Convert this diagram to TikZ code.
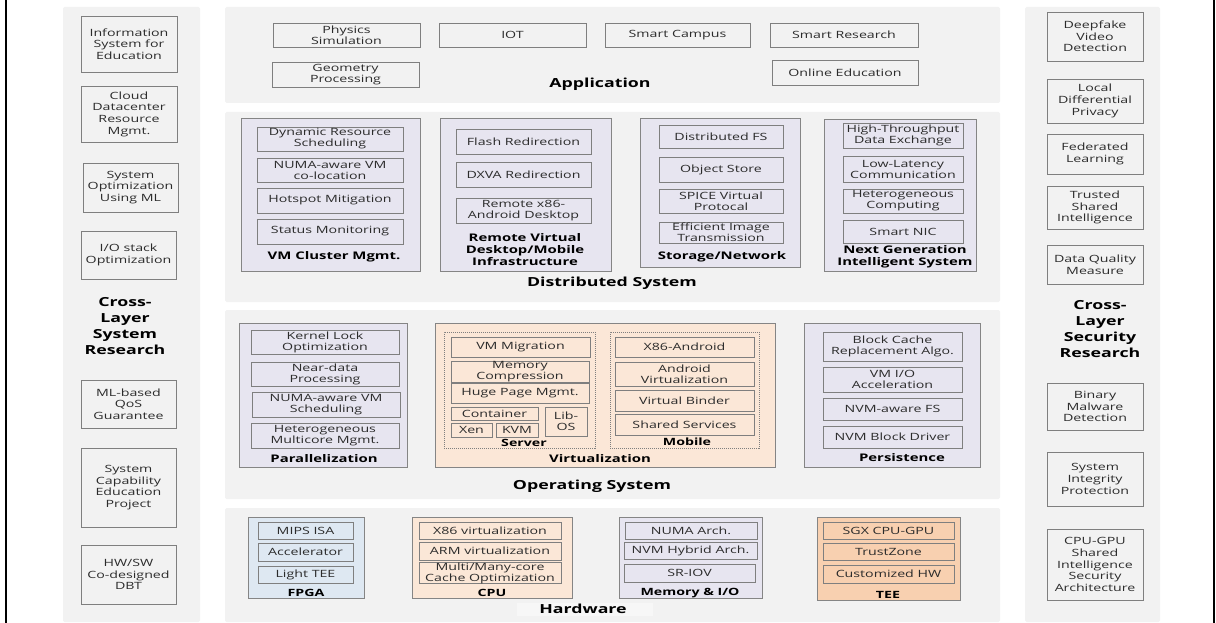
\documentclass[tikz,border=0pt]{standalone}
\usepackage{fontspec}
\setmainfont{Open Sans}[FakeStretch=1.42]
\definecolor{panelc}{HTML}{F2F2F2}
\definecolor{lav}{HTML}{E7E5F0}
\definecolor{peach}{HTML}{FBE7D7}
\definecolor{teec}{HTML}{F8D0B0}
\definecolor{fpgac}{HTML}{DEE8F2}
\definecolor{boxc}{HTML}{7F7F7F}
\definecolor{bordc}{HTML}{858585}
\definecolor{txtc}{HTML}{2B2B2B}
\newcommand{\bx}[7][]{\node[box,#1,minimum width={(#5-#3)*1pt},minimum height={(#6-#4)*1pt}] (#2) at ({(#3+#5)/2},{(#4+#6)/2}) {#7};}
\tikzset{
  box/.style={draw=boxc, line width=0.8pt, inner sep=0pt, align=center, text=txtc,
    font=\fontsize{10}{11}\selectfont},
  sbox/.style={font=\fontsize{10}{11.7}\selectfont},
  panel/.style={draw=none, fill=panelc, rounded corners=1.5pt},
  cont/.style={draw=bordc, line width=1pt},
  dbox/.style={draw=boxc, line width=0.7pt, dash pattern=on 1.2pt off 0.8pt},
  head/.style={font=\bfseries\fontsize{12.5}{16}\selectfont, align=center, inner sep=0pt, text=black},
  sub/.style={font=\bfseries\fontsize{10.5}{12}\selectfont, align=center, inner sep=0pt, text=black},
  hsub/.style={font=\bfseries\fontsize{10}{11}\selectfont, align=center, inner sep=0pt, text=black},
}
\begin{document}
\begin{tikzpicture}[x=1pt,y=-1pt]
\useasboundingbox (0,0) rectangle (1216,623);
% frame lines
\coordinate (lt) at (6.2,0); \coordinate (lb) at (6.2,623);
\coordinate (rt) at (1214,0); \coordinate (rb) at (1214,623);
\draw[line width=2.4pt] (lt) -- (lb);
\draw[line width=2.4pt] (rt) -- (rb);
% panels
\bx[panel]{pleft}{63}{7}{200}{622}{}
\bx[panel]{pright}{1025}{7}{1160}{622}{}
\bx[panel]{papp}{225}{7}{1000}{103}{}
\bx[panel]{pdist}{225}{112}{1000}{302}{}
\bx[panel]{pos}{225}{310}{1000}{499}{}
\bx[panel]{phw}{225}{508}{1000}{622}{}
% left column
\bx[sbox]{l1}{81}{16}{177}{72}{Information\\System for\\Education}
\bx[sbox]{l2}{81}{86}{177}{142}{Cloud\\Datacenter\\Resource\\Mgmt.}
\bx[sbox]{l3}{83}{163}{178}{212}{System\\Optimization\\Using ML}
\bx[sbox]{l4}{81}{231}{176}{279}{I/O stack\\Optimization}
\node[head] (lhead) at (125,326) {Cross-\\Layer\\System\\Research};
\bx[sbox]{l5}{81}{380}{176}{428}{ML-based\\QoS\\Guarantee}
\bx[sbox]{l6}{81}{448}{176}{527}{System\\Capability\\Education\\Project}
\bx[sbox]{l7}{81}{545}{176}{604}{HW/SW\\Co-designed\\DBT}
% right column
\bx[sbox]{r1}{1047}{12}{1143}{61}{Deepfake\\Video\\Detection}
\bx[sbox]{r2}{1047}{79}{1143}{123}{Local\\Differential\\Privacy}
\bx[sbox]{r3}{1047}{134}{1143}{174}{Federated\\Learning}
\bx[sbox]{r4}{1047}{186}{1143}{229}{Trusted\\Shared\\Intelligence}
\bx[sbox]{r5}{1047}{245}{1143}{284}{Data Quality\\Measure}
\node[head] (rhead) at (1100,329) {Cross-\\Layer\\Security\\Research};
\bx[sbox]{r6}{1047}{383}{1143}{430}{Binary\\Malware\\Detection}
\bx[sbox]{r7}{1047}{452}{1143}{506}{System\\Integrity\\Protection}
\bx[sbox]{r8}{1047}{529}{1143}{600}{CPU-GPU\\Shared\\Intelligence\\Security\\Architecture}
% application
\bx{a1}{273}{23}{420}{47}{Physics\\Simulation}
\bx{a2}{439}{23}{586}{47}{IOT}
\bx{a3}{605}{23}{750}{47}{Smart Campus}
\bx{a4}{770}{23}{918}{47}{Smart Research}
\bx{a5}{272}{62}{419}{87}{Geometry\\Processing}
\bx{a6}{772}{60}{918}{85}{Online Education}
\node[head] (happ) at (600,84) {Application};
% distributed system
\bx[cont,fill=lav]{vmc}{241}{119}{420}{271}{}
\bx{d1}{257}{127}{403}{151}{Dynamic Resource\\Scheduling}
\bx{d2}{257}{158}{403}{182}{NUMA-aware VM\\co-location}
\bx{d3}{257}{188}{403}{213}{Hotspot Mitigation}
\bx{d4}{257}{219}{403}{244}{Status Monitoring}
\node[sub] (lvmc) at (334,257) {VM Cluster Mgmt.};
\bx[cont,fill=lav]{rvd}{440}{119}{611}{271}{}
\bx{d5}{456}{129}{591}{154}{Flash Redirection}
\bx{d6}{456}{162}{591}{187}{DXVA Redirection}
\bx{d7}{456}{198}{591}{223}{Remote x86-\\Android Desktop}
\node[sub] (lrvd) at (525,250) {Remote Virtual\\Desktop/Mobile\\Infrastructure};
\bx[cont,fill=lav]{stn}{640}{119}{800}{267}{}
\bx{d8}{659}{125}{783}{148}{Distributed FS}
\bx{d9}{659}{157}{783}{182}{Object Store}
\bx{d10}{659}{189}{783}{213}{SPICE Virtual\\Protocal}
\bx{d11}{659}{222}{783}{243}{Efficient Image\\Transmission}
\node[sub] (lstn) at (722,257) {Storage/Network};
\bx[cont,fill=lav]{ngs}{824}{120}{976}{271}{}
\bx{d12}{843}{123}{963}{148}{High-Throughput\\Data Exchange}
\bx{d13}{843}{156}{963}{182}{Low-Latency\\Communication}
\bx{d14}{843}{189}{963}{213}{Heterogeneous\\Computing}
\bx{d15}{843}{220}{963}{243}{Smart NIC}
\node[sub] (lngs) at (905,257) {Next Generation\\Intelligent System};
\node[head] (hdist) at (612,283) {Distributed System};
% operating system
\bx[cont,fill=lav]{par}{239}{323}{407}{467}{}
\bx{o1}{251}{330}{399}{354}{Kernel Lock\\Optimization}
\bx{o2}{251}{362}{399}{386}{Near-data\\Processing}
\bx{o3}{252}{392}{400}{417}{NUMA-aware VM\\Scheduling}
\bx{o4}{251}{423}{399}{448}{Heterogeneous\\Multicore Mgmt.}
\node[sub] (lpar) at (324,459) {Parallelization};
\bx[cont,fill=peach]{virt}{435}{323}{775}{467}{}
\bx[dbox]{srv}{444}{332}{595}{448}{}
\bx{o5}{451}{337}{590}{357}{VM Migration}
\bx{o6}{451}{361}{589}{382}{Memory\\Compression}
\bx{o7}{451}{383}{589}{403}{Huge Page Mgmt.}
\bx{o8}{451}{407}{538}{420}{Container}
\bx{o9}{451}{423}{492}{437}{Xen}
\bx{o10}{496}{423}{538}{437}{KVM}
\bx{o11}{545}{407}{587}{436}{Lib-\\OS}
\node[hsub] (lsrv) at (524,443) {Server};
\bx[dbox]{mob}{610}{332}{759}{448}{}
\bx{o12}{615}{337}{754}{357}{X86-Android}
\bx{o13}{615}{362}{754}{386}{Android\\Virtualization}
\bx{o14}{615}{390}{754}{411}{Virtual Binder}
\bx{o15}{615}{414}{754}{435}{Shared Services}
\node[hsub] (lmob) at (687,442) {Mobile};
\node[sub] (lvirt) at (600,459) {Virtualization};
\bx[cont,fill=lav]{pers}{804}{323}{980}{467}{}
\bx{o16}{823}{332}{962}{361}{Block Cache\\Replacement Algo.}
\bx{o17}{823}{367}{962}{392}{VM I/O\\Acceleration}
\bx{o18}{823}{398}{962}{420}{NVM-aware FS}
\bx{o19}{823}{426}{962}{448}{NVM Block Driver}
\node[sub] (lpers) at (902,458) {Persistence};
\node[head] (hos) at (592,486) {Operating System};
% hardware
\fill[white!35!panelc] (517,603) rectangle (653,616);
\bx[cont,fill=fpgac]{fpga}{248}{517}{364}{598}{}
\bx{h1}{258}{522}{353}{539}{MIPS ISA}
\bx{h2}{258}{543}{353}{561}{Accelerator}
\bx{h3}{258}{566}{353}{583}{Light TEE}
\node[hsub] (lfpga) at (306,593) {FPGA};
\bx[cont,fill=peach]{cpu}{412}{517}{572}{598}{}
\bx{h4}{419}{522}{561}{539}{X86 virtualization}
\bx{h5}{419}{542}{561}{560}{ARM virtualization}
\bx{h6}{419}{563}{561}{583}{Multi/Many-core\\Cache Optimization}
\node[hsub] (lcpu) at (492,593) {CPU};
\bx[cont,fill=lav]{mem}{619}{517}{762}{598}{}
\bx{h7}{625}{522}{757}{539}{NUMA Arch.}
\bx{h8}{624}{542}{757}{559}{NVM Hybrid Arch.}
\bx{h9}{624}{564}{755}{582}{SR-IOV}
\node[hsub] (lmem) at (690,593) {Memory \& I/O};
\bx[cont,fill=teec]{tee}{817}{517}{960}{600}{}
\bx{h10}{823}{522}{954}{539}{SGX CPU-GPU}
\bx{h11}{823}{543}{954}{560}{TrustZone}
\bx{h12}{823}{565}{954}{583}{Customized HW}
\node[hsub] (ltee) at (888,595) {TEE};
\node[head] (hhw) at (583,609) {Hardware};
\end{tikzpicture}
\end{document}
